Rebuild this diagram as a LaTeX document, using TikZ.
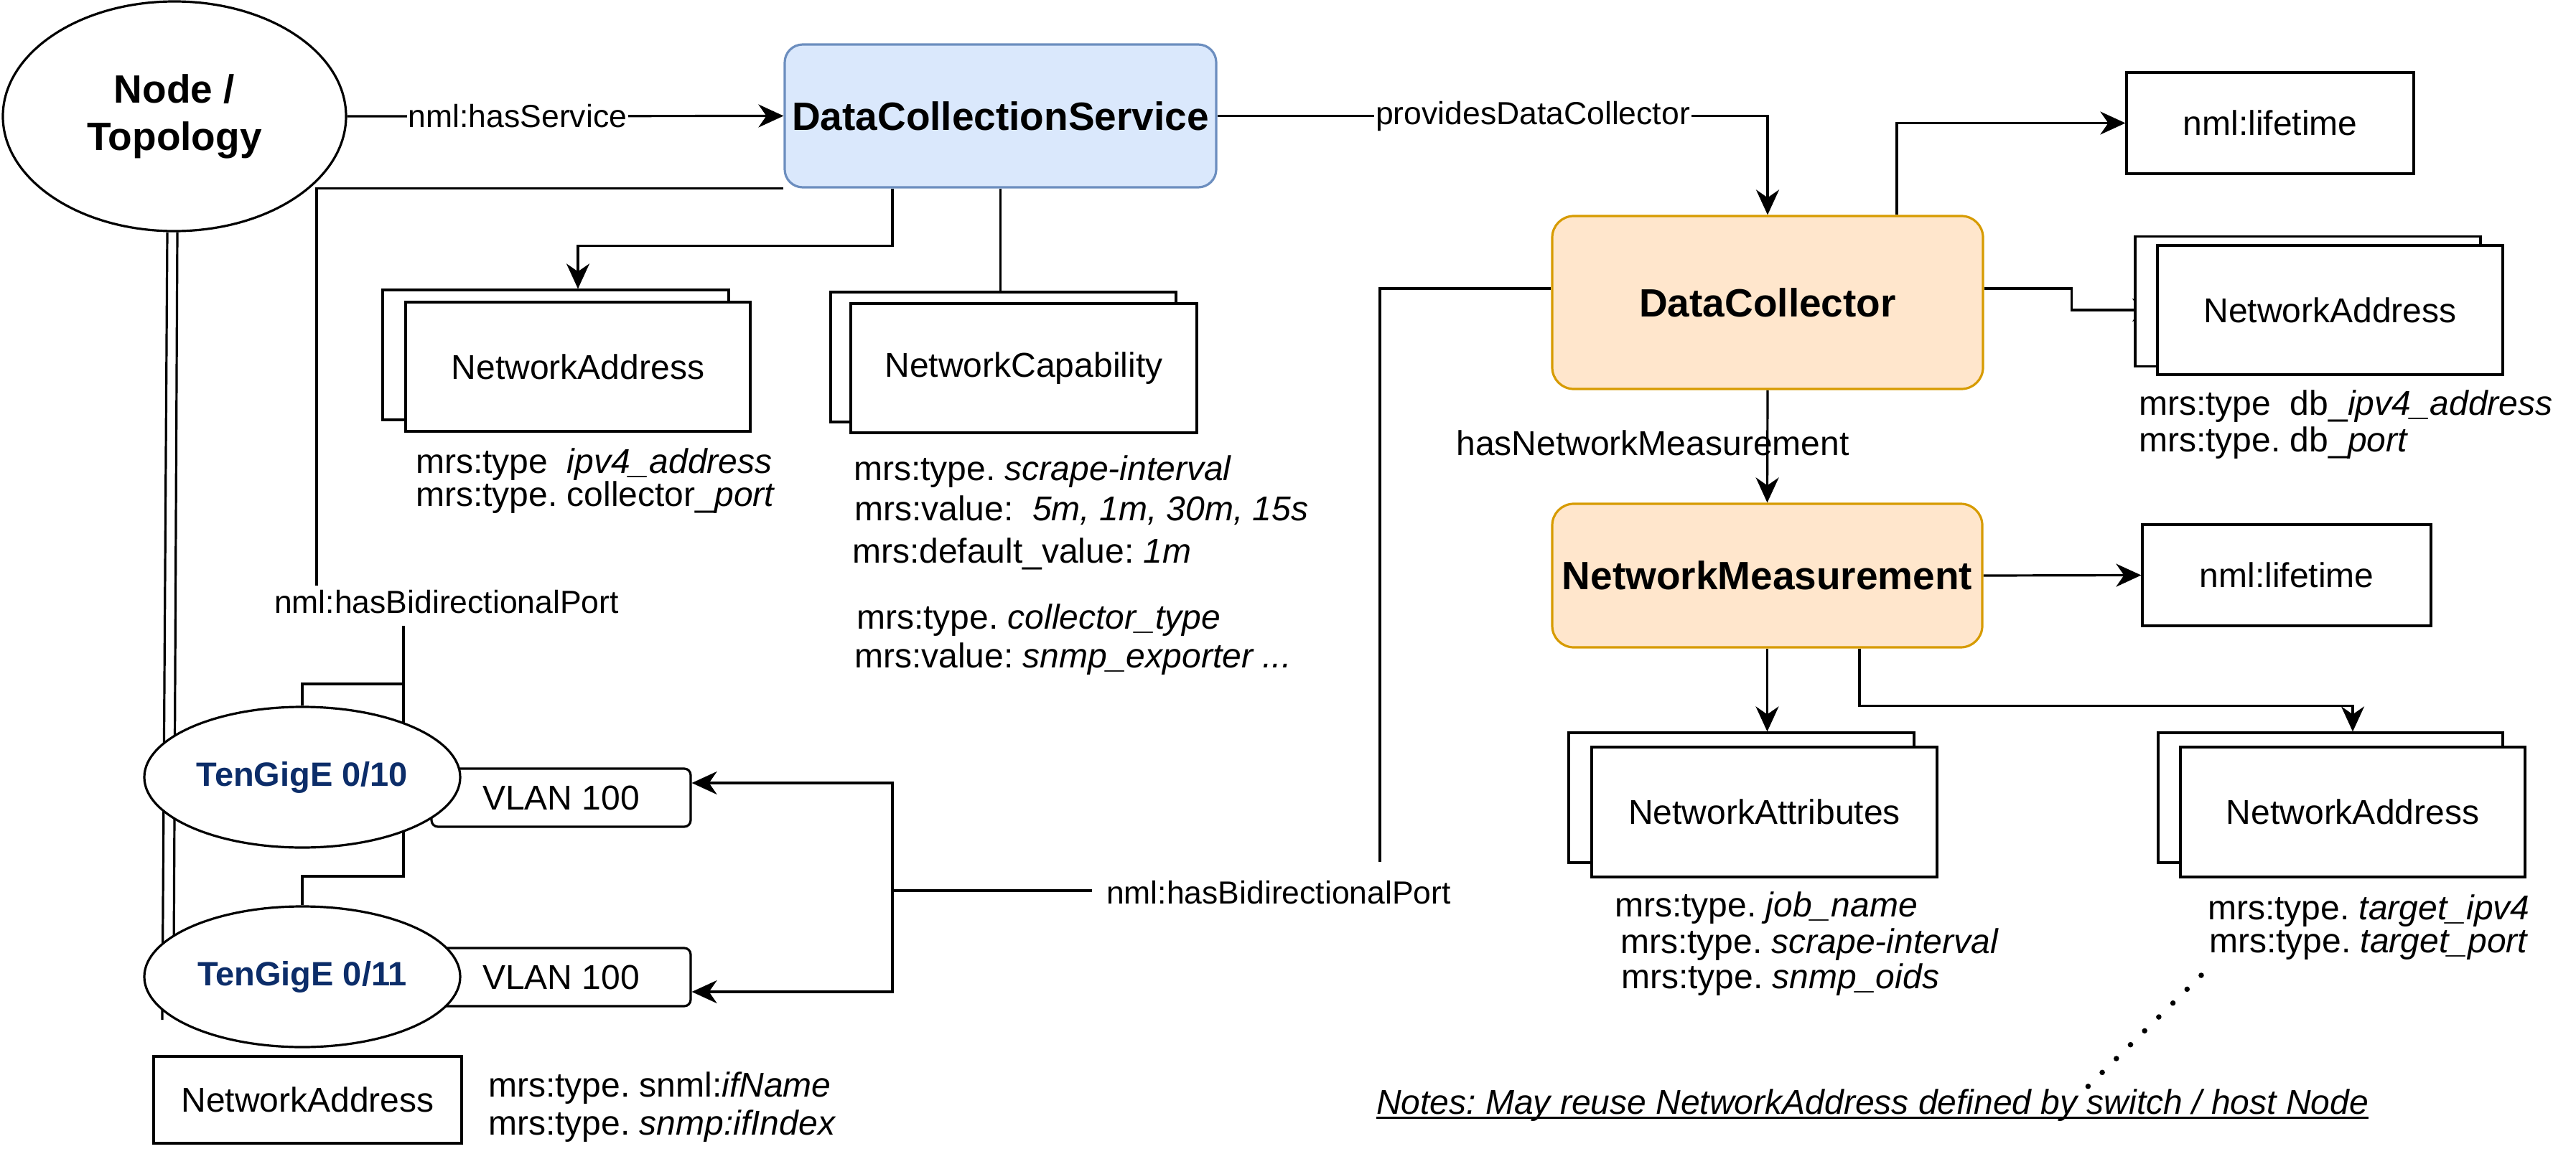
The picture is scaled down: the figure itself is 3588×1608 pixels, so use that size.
\documentclass[tikz,border=0pt]{standalone}
\usepackage{fontspec}
\setmainfont{Liberation Sans}
\usetikzlibrary{arrows.meta,calc,shapes.geometric}
\definecolor{dcsfill}{HTML}{DAE8FC}
\definecolor{dcsline}{HTML}{6C8EBF}
\definecolor{orfill}{HTML}{FFE6CC}
\definecolor{orline}{HTML}{D79B00}
\definecolor{portblue}{HTML}{0C2D69}
\newcommand{\fbigb}{\fontsize{55}{66}\selectfont\bfseries}
\newcommand{\fnorm}{\fontsize{48}{58}\selectfont}
\newcommand{\flab}{\fontsize{44.5}{53}\selectfont}
\newcommand{\fport}{\fontsize{47}{56}\selectfont\bfseries}
\frenchspacing
\pgfdeclarelayer{back}
\pgfdeclarelayer{bg}
\pgfsetlayers{back,bg,main}
\tikzset{
  conn/.style={line width=3.2pt, draw=black},
  arr/.style={-{Stealth[length=35pt,width=32pt,inset=11pt]}},
  rbox/.style={draw, line width=3.2pt, fill=white, inner sep=0pt, font=\fnorm},
  vbox/.style={draw, line width=3.2pt, fill=white, inner sep=0pt, font=\fnorm, rounded corners=9pt, minimum width=361pt, minimum height=81pt},
  dcsbox/.style={draw=dcsline, fill=dcsfill, line width=3.2pt, rounded corners=25pt, inner sep=0pt, font=\fbigb},
  orbox/.style={draw=orline, fill=orfill, line width=3.2pt, rounded corners=30pt, inner sep=0pt, font=\fbigb},
  ellnode/.style={draw, ellipse, line width=3.2pt, fill=white, inner sep=0pt},
  portell/.style={ellnode, minimum width=440pt, minimum height=196pt, font=\fport, text=portblue},
  elabel/.style={font=\flab, inner sep=2pt},
  attr/.style={font=\fnorm, anchor=west, inner sep=0pt},
  dotline/.style={line width=7.5pt, line cap=round, dash pattern=on 0.1pt off 27.5pt},
}
\begin{document}
\begin{tikzpicture}[x=1pt,y=-1pt]
\begin{pgfonlayer}{back}
\fill[white] (0,0) rectangle (3588,1608);
\end{pgfonlayer}
\useasboundingbox (0,0) rectangle (3588,1608);

% ---------- main nodes ----------
\node[ellnode, minimum width=478pt, minimum height=320pt, font=\fbigb, align=center] (nt) at (243,162) {Node /\\Topology};
\node[dcsbox, minimum width=601pt, minimum height=199pt] (dcs) at (1393.5,161.5) {DataCollectionService};
\node[orbox, minimum width=600pt, minimum height=241pt] (dc) at (2462,421.5) {DataCollector};
\node[orbox, minimum width=599pt, minimum height=200pt] (nm) at (2461.5,802) {NetworkMeasurement};
\node[rbox, minimum width=400pt, minimum height=141pt] (lt1) at (3162,171.5) {nml:lifetime};
\node[rbox, minimum width=402pt, minimum height=141pt] (lt2) at (3185,801.5) {nml:lifetime};

% stacked boxes
\node[rbox, minimum width=482pt, minimum height=181pt] (na1b) at (774,494.5) {};
\node[rbox, minimum width=480pt, minimum height=180pt] (na1f) at (805,511) {NetworkAddress};
\node[rbox, minimum width=481pt, minimum height=181pt] (ncb) at (1397.5,497.5) {};
\node[rbox, minimum width=482pt, minimum height=180pt] (ncf) at (1426,513) {NetworkCapability};
\node[rbox, minimum width=481pt, minimum height=181pt] (na2b) at (3214.5,420) {};
\node[rbox, minimum width=481pt, minimum height=180pt] (na2f) at (3245.5,432) {NetworkAddress};
\node[rbox, minimum width=481pt, minimum height=181pt] (attb) at (2425.5,1111.5) {};
\node[rbox, minimum width=481pt, minimum height=181pt] (attf) at (2457.5,1131.5) {NetworkAttributes};
\node[rbox, minimum width=480pt, minimum height=181pt] (na3b) at (3246,1111.5) {};
\node[rbox, minimum width=480pt, minimum height=181pt] (na3f) at (3277,1131.5) {NetworkAddress};

% ports
\node[vbox] (v10) at (781.5,1111.5) {VLAN 100};
\node[vbox] (v11) at (781.5,1361.5) {VLAN 100};
\node[portell] (t10) at (421,1083) {TenGigE 0/10};
\node[portell] (t11) at (421,1361) {TenGigE 0/11};
\node[rbox, minimum width=429pt, minimum height=121pt] (na4) at (428.5,1532.5) {NetworkAddress};

% ---------- free coordinates ----------
\coordinate (na2tip) at (3005,432);
\coordinate (bp1top) at (441,816);
\coordinate (bp1bot) at (562,872);
\coordinate (bpj) at (562,953);
\coordinate (bp2top) at (1922,1201);
\coordinate (bp2left) at (1521,1241);
\coordinate (bpv) at (1243,1241);
\coordinate (ntl) at (226,1421);
\coordinate (ntr) at (242,1340);
\coordinate (dot1) at (3066,1359);
\coordinate (dot2) at (2906,1516);

% ---------- connectors ----------
\begin{pgfonlayer}{bg}
\draw[conn,arr] (nt.east) -- (dcs.west);
\draw[conn,arr] (dcs.east) -| (dc.north);
\draw[conn,arr] ([xshift=180pt]dc.north) |- (lt1.west);
\draw[conn,arr] ([yshift=19.5pt]dc.east) -- ++(122,0) |- (na2tip);
\draw[conn,arr] (dc.south) -- (nm.north);
\draw[conn,arr] (nm.east) -- (lt2.west);
\draw[conn,arr] (nm.south) -- (nm.south |- attb.north);
\draw[conn,arr] ([xshift=128.5pt]nm.south) -- ++(0,80) -| (na3f.north |- na3b.north);
\draw[conn,arr] ([xshift=-150.5pt]dcs.south) -- ++(0,80) -| (na1f.north |- na1b.north);
\draw[conn] (dcs.south) -- (dcs.south |- ncb.north);
\draw[conn] (dcs.south west) -| (bp1top);
\draw[conn] (bp1bot) -- (bpj) -| (t10.north);
\draw[conn] (bpj) -- (562,1221) -| (t11.north);
\draw[conn] ([yshift=19.5pt]dc.west) -| (bp2top);
\draw[conn] (bp2left) -- (bpv);
\draw[conn,arr] (bpv) |- ([yshift=20.5pt]v10.east);
\draw[conn,arr] (bpv) |- ([yshift=-20.5pt]v11.east);
\draw[conn] ([xshift=-10pt]nt.south) -- (ntl);
\draw[conn] ([xshift=4pt]nt.south) -- (ntr);
\draw[dotline] (dot1) -- (dot2);
\end{pgfonlayer}

% ---------- edge labels ----------
\node[elabel, fill=white] (lhs) at (721,162) {nml:hasService};
\node[elabel, fill=white] (lpdc) at (2135,161.5) {providesDataCollector};
\node[elabel, font=\fnorm] (lhnm) at (2302,617) {hasNetworkMeasurement};
\node[elabel] (lbp1) at (622,839) {nml:hasBidirectionalPort};
\node[elabel] (lbp2) at (1781,1244) {nml:hasBidirectionalPort};

% ---------- attribute texts ----------
\node[attr] (a1) at (579,647) {mrs:type\ \ \textit{ipv4\_address}};
\node[attr] (a2) at (579,693) {mrs:type. collector\_\textit{port}};
\node[attr] (c1) at (1189,657) {mrs:type. \textit{scrape-interval}};
\node[attr] (c2) at (1190,711) {mrs:value:\ \ \textit{5m, 1m, 30m, 15s}};
\node[attr] (c3) at (1187,772) {mrs:default\_value: \textit{1m}};
\node[attr] (c4) at (1193,864) {mrs:type. \textit{collector\_type}};
\node[attr] (c5) at (1190,918) {mrs:value: \textit{snmp\_exporter ...}};
\node[attr] (d1) at (2979,566) {mrs:type\ \ db\_\textit{ipv4\_address}};
\node[attr] (d2) at (2979,617) {mrs:type. db\_\textit{port}};
\node[attr] (e1) at (2249,1265) {mrs:type. \textit{job\_name}};
\node[attr] (e2) at (2257,1316) {mrs:type. \textit{scrape-interval}};
\node[attr] (e3) at (2258,1365) {mrs:type. \textit{snmp\_oids}};
\node[attr] (f1) at (3075,1269) {mrs:type. \textit{target\_ipv4}};
\node[attr] (f2) at (3077,1317) {mrs:type. \textit{target\_port}};
\node[attr] (g1) at (680,1516) {mrs:type. snml:\textit{ifName}};
\node[attr] (g2) at (680,1569) {mrs:type. \textit{snmp:ifIndex}};

% notes
\node[attr, font=\fnorm\itshape] (notes) at (1917,1540) {Notes: May reuse NetworkAddress defined by switch / host Node};
\draw[line width=2.6pt] ([yshift=-5pt]notes.base west) -- ([yshift=-5pt]notes.base east);
\end{tikzpicture}
\end{document}
